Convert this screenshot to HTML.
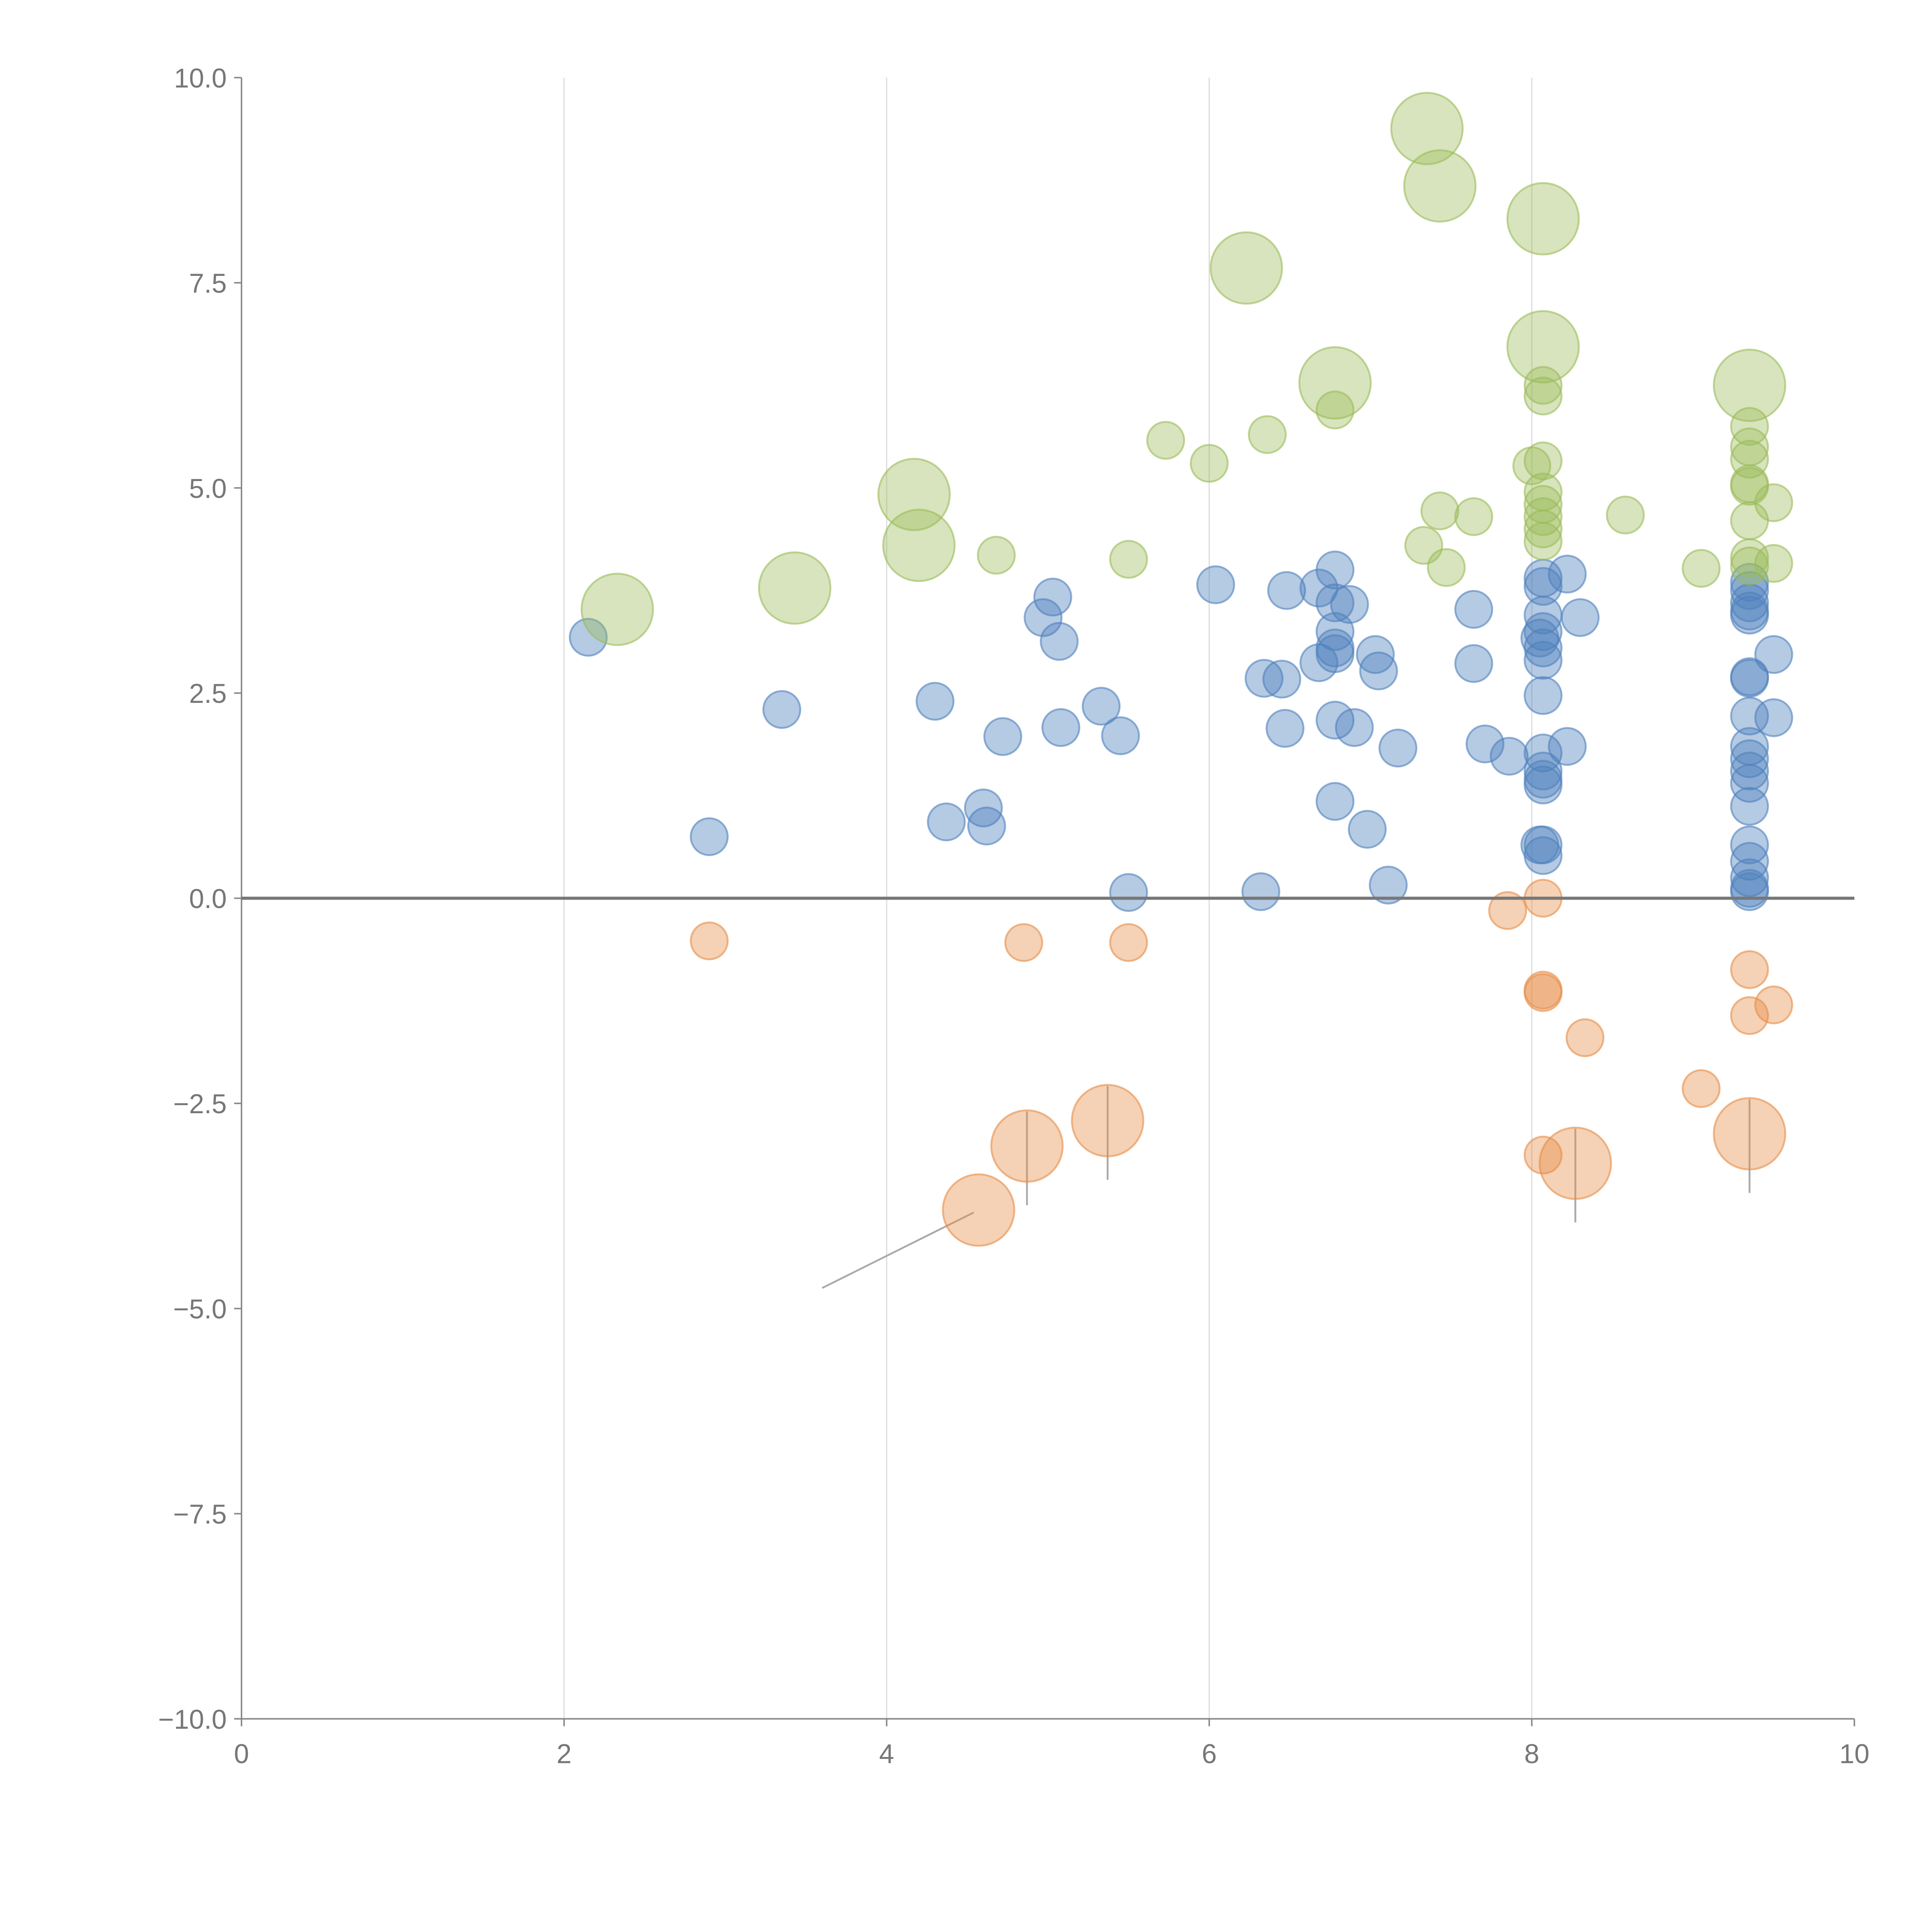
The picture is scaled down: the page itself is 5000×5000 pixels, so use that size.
<!DOCTYPE html>
<html><head><meta charset="utf-8"><style>
html,body{margin:0;padding:0;background:#fff;}
svg{display:block;font-family:"Liberation Sans",Arial,sans-serif;}
</style></head><body>
<svg id="chart" width="5000" height="5000" viewBox="0 0 1568 1568" xmlns="http://www.w3.org/2000/svg"></svg>
<script>
const xTicks=[0,2,4,6,8,10];
const yTicks=[10,7.5,5,2.5,0,-2.5,-5,-7.5,-10];
const yTickLabels=["10.0","7.5","5.0","2.5","0.0","\u22122.5","\u22125.0","\u22127.5","\u221210.0"];
const blueX=[2.15,2.9,3.35,4.3,4.37,4.6,4.62,4.72,4.97,5.03,5.07,5.08,5.33,5.45,5.5,6.04,6.32,6.34,6.45,6.48,6.47,6.68,6.68,6.78,6.78,6.78,6.78,6.78,6.78,6.78,6.87,6.9,6.98,7.03,7.05,7.11,7.17,7.64,7.64,7.71,7.86,8.05,8.07,8.07,8.07,8.07,8.07,8.07,8.07,8.07,8.07,8.07,8.07,8.05,8.07,8.07,8.22,8.22,8.3,9.35,9.35,9.35,9.35,9.35,9.35,9.35,9.35,9.35,9.35,9.35,9.35,9.35,9.35,9.35,9.35,9.35,9.35,9.5,9.5];
const blueY=[3.18,0.75,2.3,2.4,0.93,1.1,0.88,1.97,3.42,3.67,3.13,2.08,2.34,1.98,0.07,3.82,0.08,2.68,2.67,3.75,2.07,3.78,2.87,4.0,3.6,3.25,3.05,2.98,2.17,1.18,3.58,2.08,0.84,2.97,2.77,0.16,1.83,3.52,2.86,1.88,1.73,3.17,3.9,3.8,3.45,3.25,3.05,2.9,2.47,1.77,1.55,1.45,1.38,0.65,0.65,0.52,3.95,1.85,3.42,3.85,3.75,3.6,3.5,3.45,2.7,2.68,2.22,1.85,1.7,1.55,1.4,1.12,0.65,0.45,0.25,0.12,0.08,2.97,2.2];
const orangeX=[2.9,4.85,5.5,7.85,8.07,8.07,8.07,8.33,9.05,9.35,9.35,9.5,8.07,4.57,4.87,5.37,8.27,9.35];
const orangeY=[-0.52,-0.54,-0.54,-0.15,0.0,-1.12,-1.15,-1.7,-2.32,-0.87,-1.43,-1.3,-3.13,-3.8,-3.02,-2.71,-3.23,-2.87];
const orangeSize=[1,1,1,1,1,1,1,1,1,1,1,1,1,2,2,2,2,2];
const greenX=[5.73,6.0,6.36,6.78,4.68,5.5,7.33,7.43,7.47,7.64,8.07,8.07,8.07,8.0,8.07,8.07,8.07,8.07,8.07,8.58,9.05,9.35,9.35,9.35,9.35,9.35,9.35,9.35,9.35,9.5,9.5,2.33,3.43,4.17,4.2,6.23,6.78,7.35,7.43,8.07,8.07,9.35];
const greenY=[5.58,5.3,5.65,5.95,4.18,4.13,4.3,4.72,4.03,4.65,6.25,6.12,5.33,5.27,4.95,4.8,4.65,4.5,4.35,4.67,4.02,5.75,5.5,5.35,5.05,5.02,4.6,4.15,4.05,4.82,4.08,3.52,3.78,4.92,4.3,7.68,6.28,9.38,8.68,8.28,6.72,6.25];
const greenSize=[1,1,1,1,1,1,1,1,1,1,1,1,1,1,1,1,1,1,1,1,1,1,1,1,1,1,1,1,1,1,1,2,2,2,2,2,2,2,2,2,2,2];

const X0=196,X1=1505,Y0=1395,Y1=63;
const sx=v=>X0+(v-0)/10*(X1-X0);
const sy=v=>Y0-(v+10)/20*(Y0-Y1);
const NS="http://www.w3.org/2000/svg";
const svg=document.getElementById('chart');
function mk(tag,attrs,parent){const e=document.createElementNS(NS,tag);for(const k in attrs)e.setAttribute(k,attrs[k]);(parent||svg).appendChild(e);return e;}

xTicks.forEach(t=>{ if(t>0&&t<10){
  const g=mk('line',{x1:sx(t),x2:sx(t),y1:Y1,y2:Y0,stroke:'#dddddd','stroke-width':1});
  
  
}});
const ya=mk('line',{x1:X0,x2:X0,y1:Y1,y2:Y0,stroke:'#888','stroke-width':1.2});


const xa=mk('line',{x1:X0,x2:X1,y1:Y0,y2:Y0,stroke:'#888','stroke-width':1.2});


xTicks.forEach(t=>{
  mk('line',{x1:sx(t),x2:sx(t),y1:Y0,y2:Y0+6,stroke:'#888','stroke-width':1.2});
  const tx=mk('text',{x:sx(t),y:Y0+36,'text-anchor':'middle','font-size':22,fill:'#777'});
  tx.textContent=t;
  
  
});
yTicks.forEach((t,i)=>{
  mk('line',{x1:X0-6,x2:X0,y1:sy(t),y2:sy(t),stroke:'#888','stroke-width':1.2});
  const tx=mk('text',{x:X0-12,y:sy(t)+8,'text-anchor':'end','font-size':22,fill:'#777'});
  tx.textContent=yTickLabels[i];
  
  
});

orangeX.forEach((x,i)=>{ if(orangeSize[i]===2){
  let l;
  if(i===13) l=mk('line',{x1:sx(x)-4,y1:sy(orangeY[i])+2,x2:sx(3.6),y2:sy(-4.75),stroke:'#aaa','stroke-width':1.5});
  else l=mk('line',{x1:sx(x),y1:sy(orangeY[i])-28,x2:sx(x),y2:sy(orangeY[i])+28+20,stroke:'#aaa','stroke-width':1.5});
  
  
}});

function series(xs,ys,sizes,fill,stroke,op,name){
  xs.forEach((x,i)=>{
    const r=sizes?(sizes[i]===2?29:15):15;
    const c=mk('circle',{cx:sx(x),cy:sy(ys[i]),r:r,fill:fill,'fill-opacity':op,stroke:stroke,'stroke-opacity':0.6,'stroke-width':1.5});
    
    
  });
}
series(blueX,blueY,null,'rgb(79,129,189)','rgb(79,129,189)',0.42,'blue-bubble');
series(orangeX,orangeY,orangeSize,'rgb(230,140,70)','rgb(230,140,70)',0.4,'orange-bubble');
series(greenX,greenY,greenSize,'rgb(155,187,89)','rgb(155,187,89)',0.4,'green-bubble');

const z=mk('line',{x1:X0,x2:X1,y1:sy(0),y2:sy(0),stroke:'#777','stroke-width':2.5});


</script>
</body></html>
